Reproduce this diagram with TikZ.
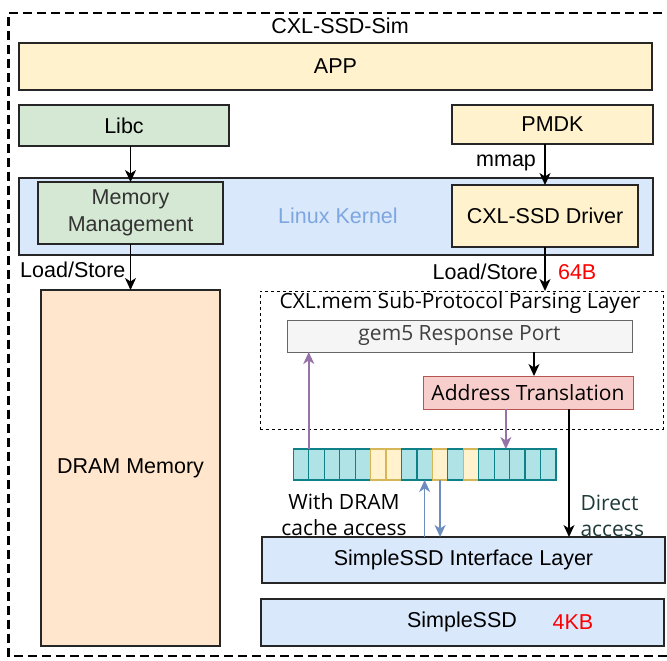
\documentclass[tikz,border=0pt]{standalone}
\usepackage{fontspec}
\setmainfont{Liberation Sans}
\newfontfamily\uifont{Open Sans}
\usetikzlibrary{arrows.meta,positioning,calc}
\definecolor{ylwfill}{HTML}{FFF2CC}
\definecolor{grnfill}{HTML}{D5E8D4}
\definecolor{blufill}{HTML}{DAE8FC}
\definecolor{orgfill}{HTML}{FFE6CC}
\definecolor{gryfill}{HTML}{F5F5F5}
\definecolor{gryline}{HTML}{666666}
\definecolor{redfill}{HTML}{F8CECC}
\definecolor{redline}{HTML}{B85450}
\definecolor{tfill}{HTML}{B0E3E6}
\definecolor{tdraw}{HTML}{0E8088}
\definecolor{yfill}{HTML}{FFF2CC}
\definecolor{ydraw}{HTML}{D6B656}
\definecolor{purpline}{HTML}{9673A6}
\definecolor{bluline}{HTML}{6C8EBF}
\definecolor{kerneltext}{HTML}{7EA6E0}
\definecolor{directtext}{HTML}{1F3A3A}
\tikzset{
  big/.style={font=\fontsize{21.5}{26.5}\selectfont},
  ui/.style={font=\uifont\fontsize{21}{26}\selectfont},
  blk/.style={big, draw=black!85, line width=1.3pt, inner sep=0pt, outer sep=0pt,
    anchor=north west, align=center},
  arr/.style={-{Stealth[length=12pt,width=11pt,inset=3.5pt]}, line width=1.5pt},
  parr/.style={arr, draw=purpline, color=purpline},
  barr/.style={arr, draw=bluline, color=bluline},
  cell/.style={fill=#1fill, draw=#1draw, line width=1.2pt, minimum width=15.45pt,
    minimum height=31pt, inner sep=0pt, outer sep=0pt}
}

\begin{document}
\begin{tikzpicture}[x=1pt,y=-1pt]
  \useasboundingbox (0,0) rectangle (667,661);

  % Rahmen
  \draw[line width=2.5pt, dash pattern=on 9pt off 5pt]
    (690,13) -- (8.5,13) -- (8.5,656) -- (690,656);
  \node[big] (title) at (340,26) {CXL-SSD-Sim};

  % Obere Schichten
  \node[blk, fill=ylwfill, minimum width=633pt, minimum height=47pt] (app) at (19,43) {APP};
  \node[blk, fill=grnfill, minimum width=210pt, minimum height=41pt] (libc) at (19,105) {Libc};
  \node[blk, fill=ylwfill, minimum width=201pt, minimum height=39pt] (pmdk) at (452,105) {PMDK};

  % Kernel
  \node[blk, fill=blufill, minimum width=634pt, minimum height=77pt] (kernel) at (19,178) {};
  \node[big, text=kerneltext] (kname) at (338,216) {Linux Kernel};
  \node[blk, fill=grnfill, text=black!80, minimum width=185pt, minimum height=62pt] (mm) at (38,182) {Memory\\Management};
  \node[blk, fill=ylwfill, minimum width=186pt, minimum height=62pt] (drv) at (452,185) {CXL-SSD Driver};

  % DRAM
  \node[blk, fill=orgfill, minimum width=179pt, minimum height=356pt] (dram) at (41,290) {DRAM Memory};

  % Parsing Layer
  \node[blk, draw=black, line width=1pt, dash pattern=on 3pt off 3pt,
    minimum width=403pt, minimum height=138pt] (parse) at (260,291) {};
  \node[ui] (pname) at (460,303) {CXL.mem Sub-Protocol Parsing Layer};
  \node[blk, ui, fill=gryfill, draw=gryline, text=black!75, line width=1pt,
    minimum width=345pt, minimum height=32pt] (gem5) at (287,320) {gem5 Response Port};
  \node[blk, ui, fill=redfill, draw=redline, line width=1pt,
    minimum width=210pt, minimum height=33pt] (at) at (423,376) {Address Translation};

  % DRAM-Cache
  \foreach \c [count=\i] in {t,t,t,t,t,y,y,t,t,y,t,y,t,t,t,t,t}
    \node[cell=\c] (c\i) at ({293.3+(\i-0.5)*15.45},464.5) {};

  % SimpleSSD
  \node[blk, fill=blufill, minimum width=403pt, minimum height=46pt] (iface) at (262,537) {SimpleSSD Interface Layer};
  \node[blk, fill=blufill, minimum width=403pt, minimum height=47pt] (ssd) at (261,599) {};
  \node[big] (sname) at (462,622) {SimpleSSD};
  \node[big, text=red] (ssize) at (573,622) {4KB};

  % Pfeile
  \draw[arr] (mm.north |- libc.south) -- (mm.north);
  \draw[arr] (drv.north |- pmdk.south) -- node[big, left=5pt, yshift=2pt] {mmap} (drv.north);
  \draw[arr] (mm.south) -- node[big, left=1pt, yshift=-3pt] {Load/Store} (mm.south |- dram.north);
  \draw[arr] (drv.south) -- node[big, left=3pt, yshift=-3pt] {Load/Store}
    node[big, right=9pt, yshift=-3pt, text=red] {64B} (drv.south |- parse.north);
  \draw[arr] ([xshift=6pt]at.north |- gem5.south) -- ([xshift=6pt]at.north);
  \draw[parr] (c1.north east) -- (c1.north east |- gem5.south);
  \draw[parr] ([xshift=4pt]c14.north |- at.south) -- ([xshift=4pt]c14.north);
  \draw[barr] (iface.north -| c9.south) -- (c9.south);
  \draw[barr] (c10.south) -- (c10.south |- iface.north);
  \draw[arr] ([xshift=41pt]at.south) -- ([xshift=41pt]at.south |- iface.north);

  % Beschriftungen
  \node[ui, align=center] (dramacc) at (344,515) {With DRAM\\cache access};
  \node[ui, align=left, anchor=west, text=directtext] (direct) at (577,516) {Direct\\access};
\end{tikzpicture}
\end{document}
